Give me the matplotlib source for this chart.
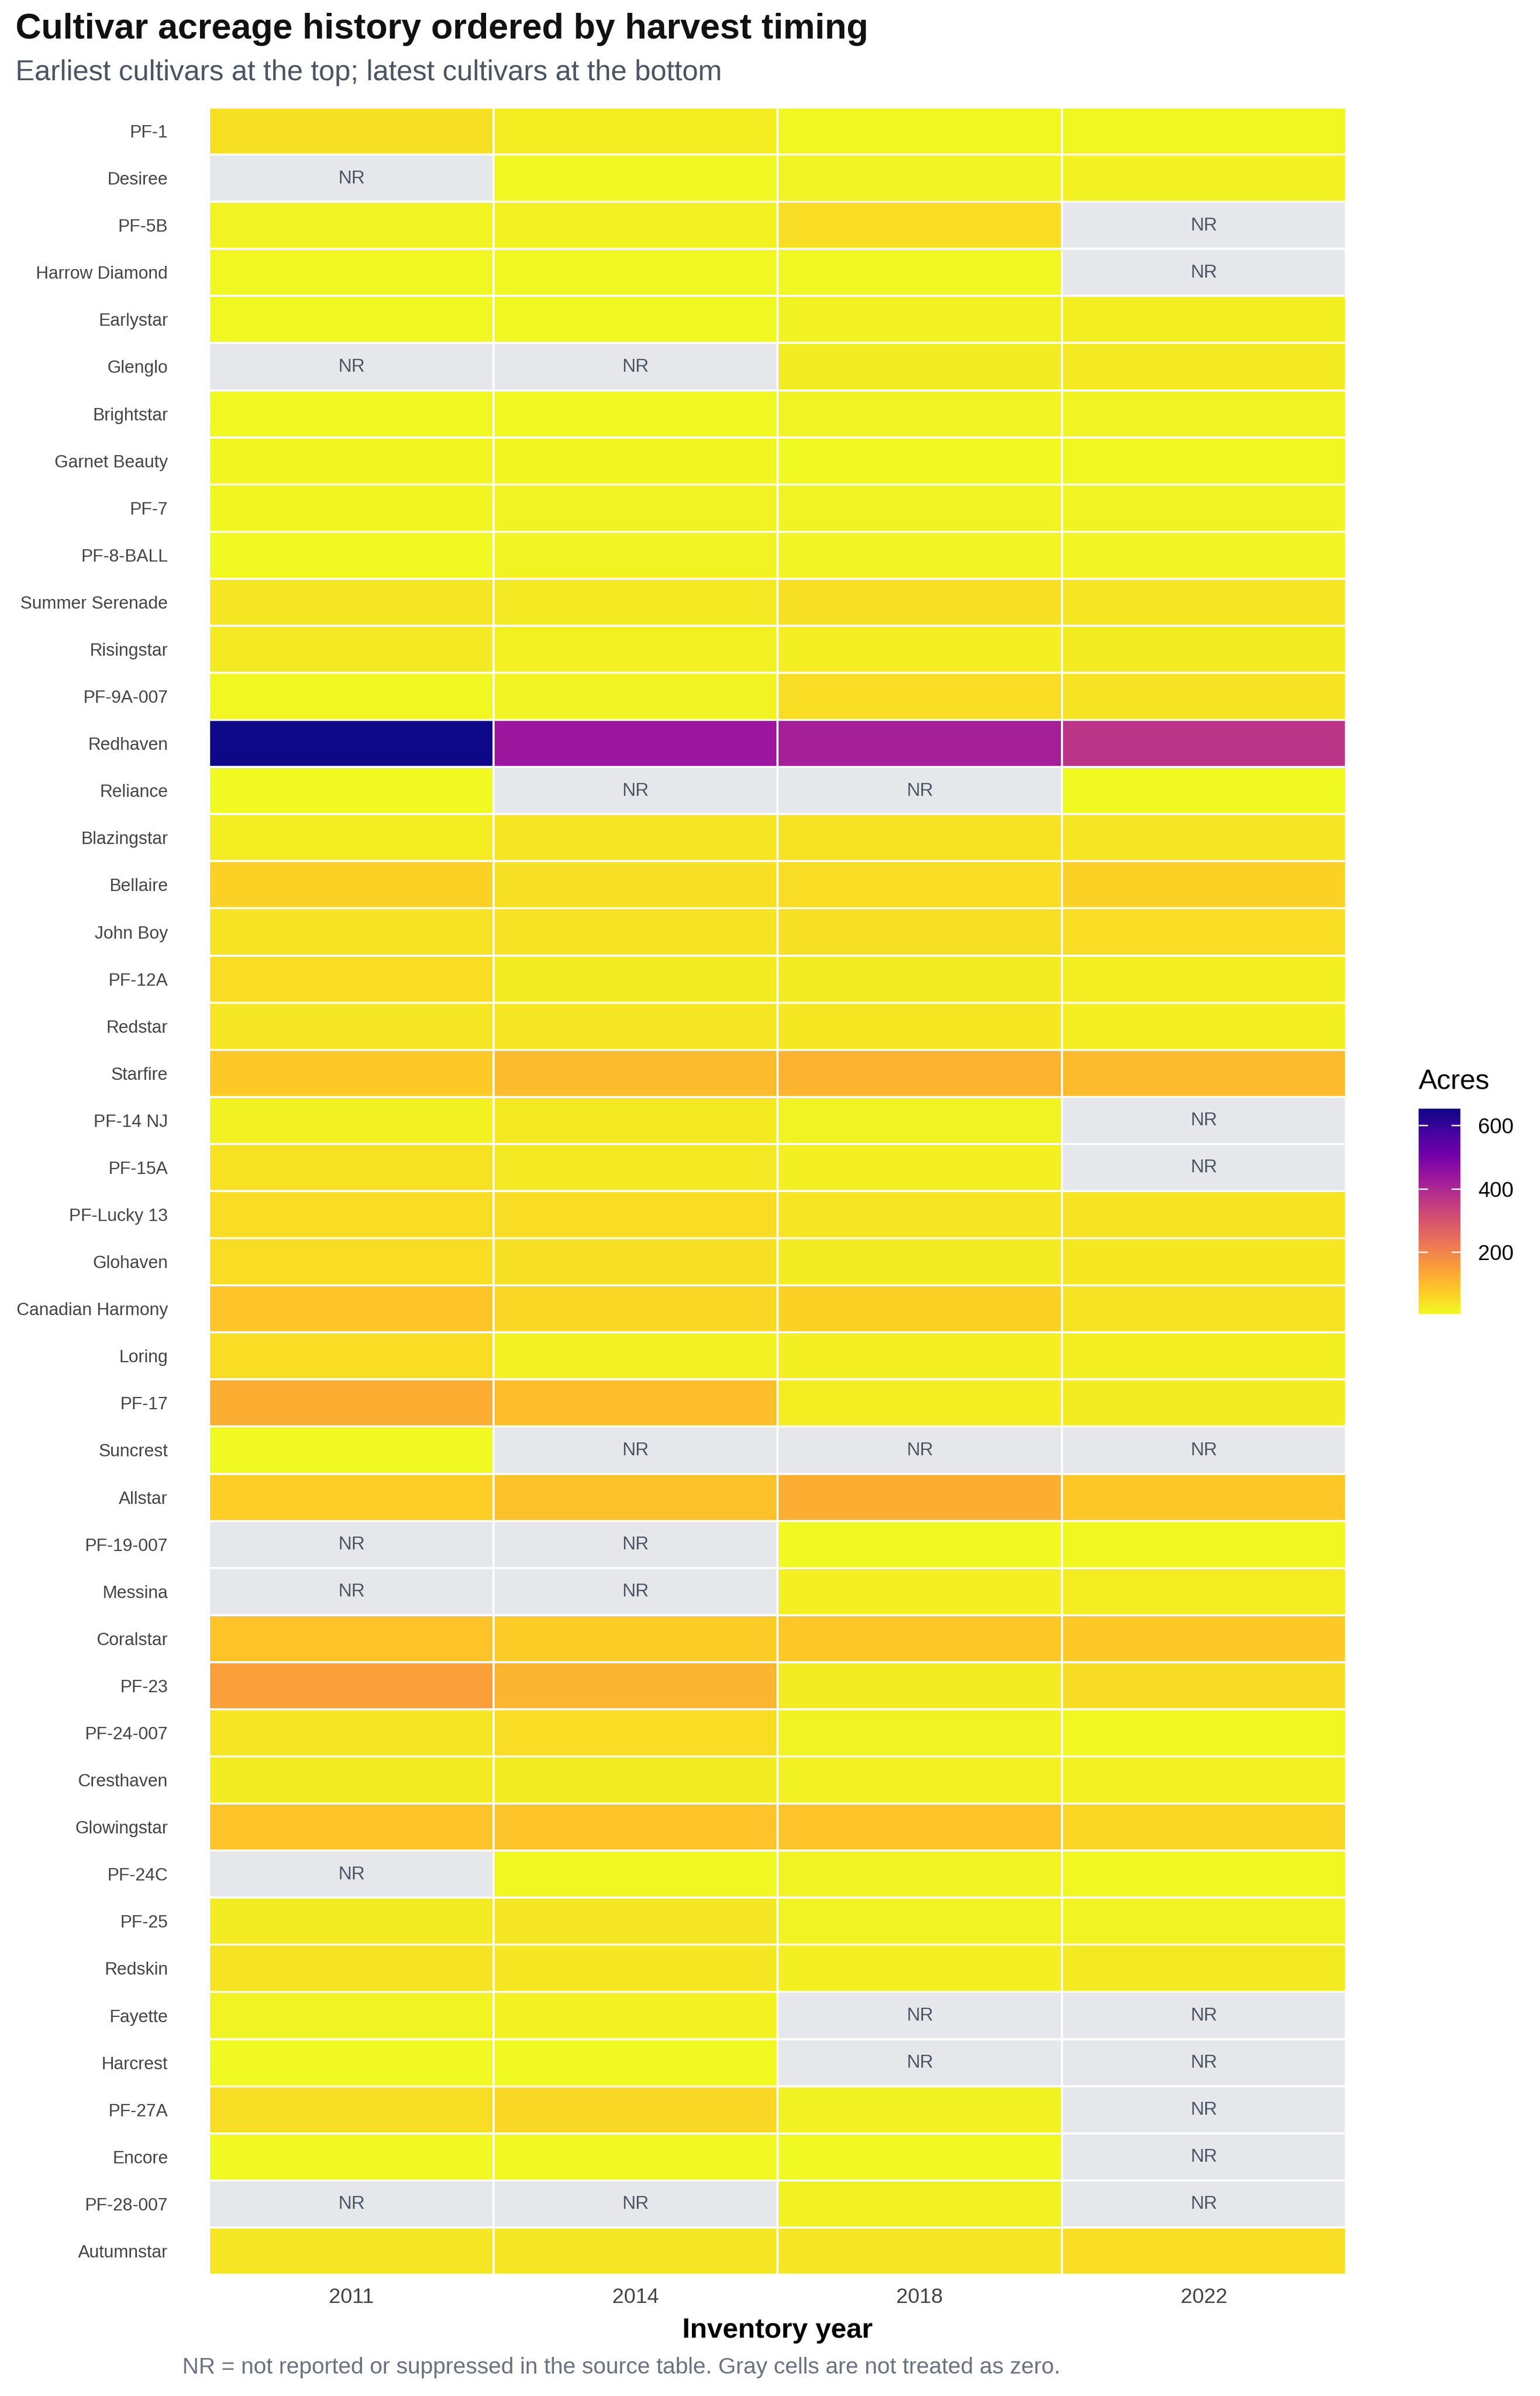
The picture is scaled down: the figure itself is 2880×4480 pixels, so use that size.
import matplotlib
matplotlib.use("Agg")
import matplotlib.pyplot as plt
import numpy as np
from matplotlib.colors import LinearSegmentedColormap, ListedColormap, Normalize

plt.rcParams["font.family"] = ["Liberation Sans", "DejaVu Sans"]

years = ["2011", "2014", "2018", "2022"]

cultivars = [
    "PF-1", "Desiree", "PF-5B", "Harrow Diamond", "Earlystar", "Glenglo",
    "Brightstar", "Garnet Beauty", "PF-7", "PF-8-BALL", "Summer Serenade",
    "Risingstar", "PF-9A-007", "Redhaven", "Reliance", "Blazingstar",
    "Bellaire", "John Boy", "PF-12A", "Redstar", "Starfire", "PF-14 NJ",
    "PF-15A", "PF-Lucky 13", "Glohaven", "Canadian Harmony", "Loring",
    "PF-17", "Suncrest", "Allstar", "PF-19-007", "Messina", "Coralstar",
    "PF-23", "PF-24-007", "Cresthaven", "Glowingstar", "PF-24C", "PF-25",
    "Redskin", "Fayette", "Harcrest", "PF-27A", "Encore", "PF-28-007",
    "Autumnstar",
]

# acres by inventory year, None = not reported / suppressed
acres_2011 = [45, None, 15, 9, 9, None, 10, 12, 12, 7, 33, 30, 9, 652, 5, 25,
              67, 38, 50, 34, 80, 20, 42, 48, 48, 86, 50, 126, 5, 72, None, None,
              90, 150, 37, 27, 88, None, 26, 40, 14, 5, 46, 5, None, 34]
acres_2014 = [24, 8, 20, 9, 9, None, 9, 12, 14, 13, 30, 20, 14, 435, None, 36,
              45, 39, 26, 34, 103, 28, 30, 50, 44, 57, 20, 96, None, 93, None, None,
              75, 112, 48, 26, 88, 8, 33, 32, 17, 5, 57, 5, None, 33]
acres_2018 = [9, 15, 50, 8, 16, 27, 15, 7, 14, 14, 45, 22, 48, 419, None, 39,
              50, 44, 26, 32, 116, 14, 22, 37, 27, 68, 22, 23, None, 126, 5, 22,
              82, 26, 14, 19, 88, 14, 15, 22, None, None, 20, 7, 20, 36]
acres_2022 = [9, 17, None, None, 22, 28, 15, 9, 13, 14, 37, 26, 40, 371, 5, 37,
              67, 48, 22, 21, 103, None, None, 38, 32, 40, 22, 26, None, 82, 9, 24,
              80, 51, 9, 20, 59, 9, 15, 28, None, None, None, None, None, 48]

# plotly "Plasma" stops, reversed so small acreage is yellow
plasma_stops = ["#0d0887", "#46039f", "#7201a8", "#9c179e", "#bd3786",
                "#d8576b", "#ed7953", "#fb9f3a", "#fdca26", "#f0f921"]
cmap = LinearSegmentedColormap.from_list("plasma_r_plotly", plasma_stops[::-1])

W, H = 2880, 4480
fig = plt.figure(figsize=(W / 300, H / 300), dpi=300)

left, right, top, bottom = 391, 2517, 201, 4253
ax = fig.add_axes([left / W, 1 - bottom / H, (right - left) / W, (bottom - top) / H])

cols = [acres_2011, acres_2014, acres_2018, acres_2022]
vals = np.array([[np.nan if v is None else v for v in c] for c in cols], dtype=float).T
missing = np.isnan(vals)
norm = Normalize(vmin=np.nanmin(vals), vmax=np.nanmax(vals))

ax.pcolormesh(np.ma.masked_where(~missing, np.ones_like(vals)),
              cmap=ListedColormap(["#e5e7eb"]), edgecolors="white", linewidth=0.9)
mesh = ax.pcolormesh(np.ma.masked_invalid(vals), cmap=cmap, norm=norm,
                     edgecolors="white", linewidth=0.9)

for r, c in zip(*np.where(missing)):
    ax.text(c + 0.5, r + 0.5, "NR", ha="center", va="center", fontsize=8.3, color="#4b5563")

ax.set_xlim(0, len(years))
ax.set_ylim(len(cultivars), 0)
ax.set_xticks(np.arange(len(years)) + 0.5)
ax.set_xticklabels(years, fontsize=9.4, color="#444444")
ax.set_yticks(np.arange(len(cultivars)) + 0.5)
ax.set_yticklabels(cultivars, fontsize=7.9, color="#444444")
ax.tick_params(axis="y", length=0, pad=18.5)
ax.tick_params(axis="x", length=0, pad=6)
for s in ax.spines.values():
    s.set_visible(False)
fig.text((left + right) / 2 / W, 1 - 4358 / H, "Inventory year", ha="center", va="center",
         fontsize=12.5, fontweight="bold", color="black")

# colorbar
cax = fig.add_axes([2653 / W, 1 - 2457 / H, 78 / W, (2457 - 2073) / H])
cb = fig.colorbar(mesh, cax=cax, ticks=[200, 400, 600])
cb.outline.set_visible(False)
cax.tick_params(axis="y", direction="in", left=True, right=True, length=4,
                width=0.6, color="white", labelsize=9.6, labelcolor="black", pad=8)
fig.text(2653 / W, 1 - 2022 / H, "Acres", ha="left", va="center", fontsize=12.5)

fig.text(29 / W, 1 - 55 / H, "Cultivar acreage history ordered by harvest timing",
         ha="left", va="center", fontsize=16, fontweight="bold", color="#111111")
fig.text(29 / W, 1 - 136 / H, "Earliest cultivars at the top; latest cultivars at the bottom",
         ha="left", va="center", fontsize=12.8, color="#4b5563")
fig.text(341 / W, 1 - 4427 / H,
         "NR = not reported or suppressed in the source table. Gray cells are not treated as zero.",
         ha="left", va="center", fontsize=10.2, color="#6b7280")

fig.savefig("out.png", dpi=300, facecolor="white")
